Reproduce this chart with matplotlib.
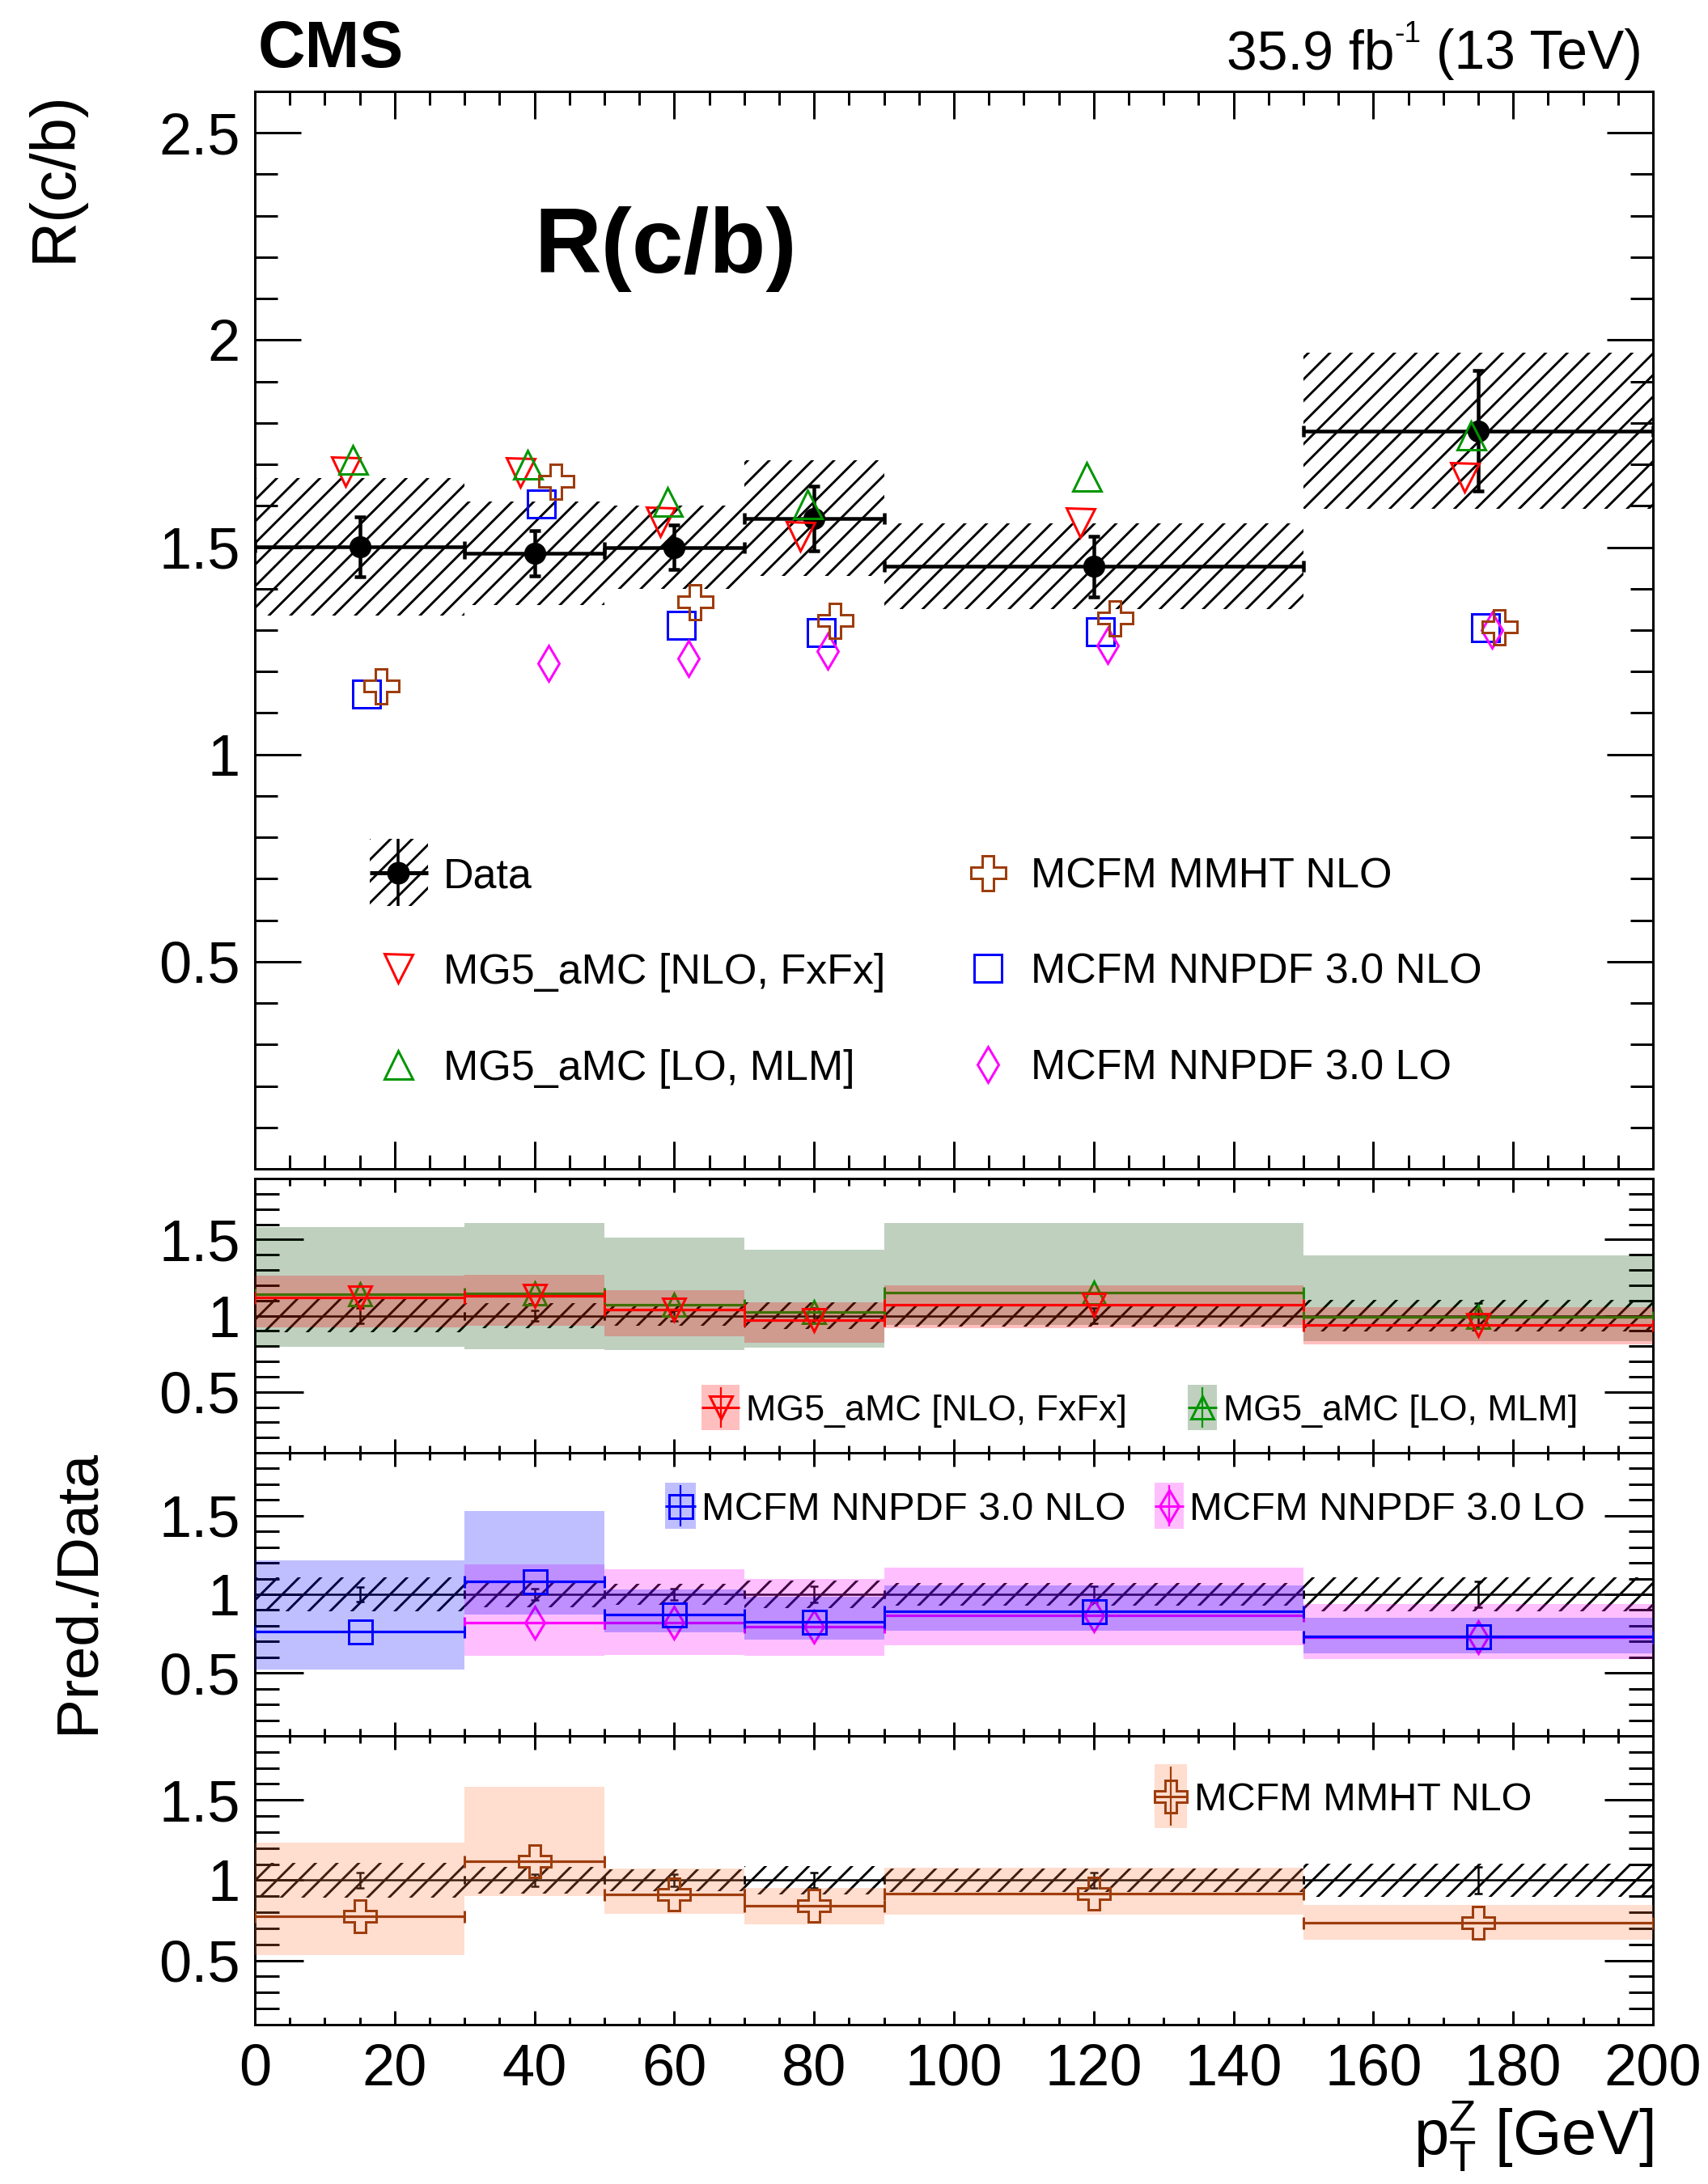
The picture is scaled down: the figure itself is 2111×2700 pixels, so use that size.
import numpy as np
import matplotlib
matplotlib.use("Agg")
import matplotlib.pyplot as plt
from matplotlib.lines import Line2D
from matplotlib.patches import Rectangle
from matplotlib.ticker import FixedLocator, FixedFormatter, MultipleLocator

# ---------------------------------------------------------------- data
bin_lo = np.array([0, 30, 50, 70, 90, 150])
bin_hi = np.array([30, 50, 70, 90, 150, 200])
bin_center = np.array([15, 40, 60, 80, 120, 175])

data_val = np.array([1.501, 1.486, 1.500, 1.570, 1.454, 1.781])
data_stat = np.array([0.073, 0.055, 0.054, 0.078, 0.073, 0.145])
data_syst = np.array([0.165, 0.125, 0.100, 0.140, 0.103, 0.188])

mg5_nlo = np.array([1.683, 1.680, 1.562, 1.527, 1.560, 1.668])
mg5_lo = np.array([1.712, 1.700, 1.611, 1.604, 1.671, 1.770])
mcfm_nnpdf_nlo = np.array([1.145, 1.605, 1.311, 1.295, 1.297, 1.305])
mcfm_nnpdf_lo = np.array([np.nan, 1.220, 1.232, 1.250, 1.262, 1.300])
mcfm_mmht_nlo = np.array([1.165, 1.660, 1.368, 1.324, 1.330, 1.308])

# theory uncertainty bands, in units of Pred./Data
mg5_nlo_band_lo = np.array([0.924, 0.933, 0.867, 0.821, 0.918, 0.812])
mg5_nlo_band_hi = np.array([1.265, 1.269, 1.166, 1.087, 1.198, 1.057])
mg5_lo_band_lo = np.array([0.796, 0.782, 0.773, 0.788, 0.940, 0.835])
mg5_lo_band_hi = np.array([1.584, 1.610, 1.511, 1.432, 1.610, 1.393])
nnpdf_nlo_band_lo = np.array([0.523, 0.871, 0.758, 0.712, 0.767, 0.626])
nnpdf_nlo_band_hi = np.array([1.214, 1.530, 1.029, 0.986, 1.055, 0.852])
nnpdf_lo_band_lo = np.array([np.nan, 0.607, 0.614, 0.607, 0.674, 0.587])
nnpdf_lo_band_hi = np.array([np.nan, 1.189, 1.161, 1.098, 1.170, 0.940])
mmht_nlo_band_lo = np.array([0.534, 0.904, 0.793, 0.726, 0.785, 0.630])
mmht_nlo_band_hi = np.array([1.236, 1.581, 1.072, 0.950, 1.076, 0.848])

xticks = [0, 20, 40, 60, 80, 100, 120, 140, 160, 180, 200]
xticklabels = ["0", "20", "40", "60", "80", "100", "120", "140", "160", "180", "200"]
main_yticks = [0.5, 1.0, 1.5, 2.0, 2.5]
main_yticklabels = ["0.5", "1", "1.5", "2", "2.5"]
ratio_yticks = [0.5, 1.0, 1.5]
ratio_yticklabels = ["0.5", "1", "1.5"]

label_data = "Data"
label_mg5_nlo = "MG5_aMC [NLO, FxFx]"
label_mg5_lo = "MG5_aMC [LO, MLM]"
label_mmht_nlo = "MCFM MMHT NLO"
label_nnpdf_nlo = "MCFM NNPDF 3.0 NLO"
label_nnpdf_lo = "MCFM NNPDF 3.0 LO"

# ---------------------------------------------------------------- style
plt.rcParams['font.family'] = ['Liberation Sans', 'DejaVu Sans']
plt.rcParams['mathtext.fontset'] = 'custom'
plt.rcParams['mathtext.rm'] = 'Liberation Sans'
plt.rcParams['mathtext.it'] = 'Liberation Sans:italic'
plt.rcParams['mathtext.bf'] = 'Liberation Sans:bold'
plt.rcParams['hatch.linewidth'] = 1.3

W, H, DPI = 2111, 2700, 160
HATCH = '//'

C_RED, C_GREEN, C_BLUE, C_MAG, C_BROWN = '#ff0000', '#009600', '#0000ff', '#ff00ff', '#9e3d0c'
B_RED, B_GREEN, B_BLUE, B_MAG, B_BROWN = '#ff0000', '#004600', '#0000ff', '#ff00ff', '#ff7b43'
BAND_ALPHA = 0.25

# horizontal marker shifts (GeV) so overlapping predictions stay visible
SHIFT = {'nlo': -2.0, 'lo': -1.0, 'nnpdf_nlo': 1.0, 'nnpdf_lo': 2.0, 'mmht': 3.0}


def pt(px):
    return px * 72.0 / DPI


def fx(x):
    return x / W


def fy(y):
    return 1.0 - y / H


fig = plt.figure(figsize=(W / DPI, H / DPI), dpi=DPI)


def add_axes_px(l, t, r, b):
    return fig.add_axes([fx(l), fy(b), (r - l) / W, (b - t) / H])


ax_main = add_axes_px(315, 113, 2043, 1445)
ax_r1 = add_axes_px(315, 1457, 2043, 1796)
ax_r2 = add_axes_px(315, 1796, 2043, 2146)
ax_r3 = add_axes_px(315, 2146, 2043, 2503)

TICK_FS = 32.5


def style_axes(ax, ylim, yticks, yticklabels, ymaj, ymin, xmaj, xmin, show_x):
    ax.set_xlim(0, 200)
    ax.set_ylim(*ylim)
    ax.xaxis.set_major_locator(FixedLocator(xticks))
    ax.xaxis.set_major_formatter(FixedFormatter(xticklabels))
    ax.xaxis.set_minor_locator(MultipleLocator(5))
    ax.yaxis.set_major_locator(FixedLocator(yticks))
    ax.yaxis.set_major_formatter(FixedFormatter(yticklabels))
    ax.yaxis.set_minor_locator(MultipleLocator(0.1))
    ax.tick_params(which='both', direction='in', top=True, bottom=True,
                   left=True, right=True, width=pt(3), color='black')
    ax.tick_params(axis='y', which='major', length=pt(ymaj), labelsize=TICK_FS, pad=pt(18))
    ax.tick_params(axis='y', which='minor', length=pt(ymin))
    ax.tick_params(axis='x', which='major', length=pt(xmaj), labelsize=TICK_FS, pad=pt(22))
    ax.tick_params(axis='x', which='minor', length=pt(xmin))
    ax.tick_params(axis='x', labelbottom=show_x)
    for s in ax.spines.values():
        s.set_linewidth(pt(3))


style_axes(ax_main, (0, 2.6), main_yticks, main_yticklabels, 57, 28, 34, 17, False)
for a in (ax_r1, ax_r2):
    style_axes(a, (0.1, 1.9), ratio_yticks, ratio_yticklabels, 60, 30, 17, 9, False)
style_axes(ax_r3, (0.1, 1.9), ratio_yticks, ratio_yticklabels, 60, 30, 17, 9, True)

widths = bin_hi - bin_lo
xerr = [bin_center - bin_lo, bin_hi - bin_center]

# ---------------------------------------------------------------- main panel
ax_main.bar(bin_lo, 2 * data_syst, width=widths, bottom=data_val - data_syst,
            align='edge', fill=False, hatch=HATCH, edgecolor='black', linewidth=0, zorder=1)
ax_main.errorbar(bin_center, data_val, xerr=xerr, yerr=data_stat, fmt='o', color='black',
                 ms=pt(25), elinewidth=pt(4.5), capsize=pt(7), capthick=pt(4.5), zorder=3)

main_models = [
    (mg5_nlo, SHIFT['nlo'], 'v', C_RED, pt(35)),
    (mg5_lo, SHIFT['lo'], '^', C_GREEN, pt(35)),
    (mcfm_nnpdf_nlo, SHIFT['nnpdf_nlo'], 's', C_BLUE, pt(34)),
    (mcfm_nnpdf_lo, SHIFT['nnpdf_lo'], 'd', C_MAG, pt(30.5)),
    (mcfm_mmht_nlo, SHIFT['mmht'], 'P', C_BROWN, pt(43)),
]
for vals, sh, mk, col, ms in main_models:
    ax_main.plot(bin_center + sh, vals, ls='none', marker=mk, ms=ms, mfc='none',
                 mec=col, mew=pt(3), zorder=4)

fig.text(fx(660), fy(337), "R(c/b)", fontsize=51.5, fontweight='bold', ha='left', va='baseline')
fig.text(fx(319), fy(83), "CMS", fontsize=36.5, fontweight='bold', ha='left', va='baseline')
fig.text(fx(67), fy(112), "R(c/b)", fontsize=35, rotation=90, ha='center', va='top')
fig.text(fx(98), fy(1967), "Pred./Data", fontsize=33, rotation=90, ha='center', va='center')
fig.text(fx(2043), fy(2664), r"$\mathregular{p}_{\mathregular{T}}^{\mathregular{Z}}$ [GeV]",
         fontsize=35, ha='right', va='baseline')

# luminosity label built right to left so the superscript keeps a plain hyphen
renderer = fig.canvas.get_renderer()
LUMI_FS = 30.5
t_energy = fig.text(fx(2030), fy(85), " (13 TeV)", fontsize=LUMI_FS, ha='right', va='baseline')
x_edge = t_energy.get_window_extent(renderer).x0 / W
t_sup = fig.text(x_edge, fy(52), "-1", fontsize=LUMI_FS * 0.55, ha='right', va='baseline')
x_edge = t_sup.get_window_extent(renderer).x0 / W
fig.text(x_edge, fy(85), "35.9 fb", fontsize=LUMI_FS, ha='right', va='baseline')

# legend of the main panel
LEG_FS = 23.4


def legend_text(x, yc, text, fs):
    em = fs * DPI / 72.0
    fig.text(fx(x), fy(yc + 0.358 * em), text, fontsize=fs, ha='left', va='baseline')


def legend_marker(x, y, mk, col, ms, filled=False):
    fig.add_artist(Line2D([fx(x)], [fy(y)], transform=fig.transFigure, ls='none', marker=mk,
                          ms=ms, mfc=col if filled else 'none', mec=col, mew=pt(3)))


def fig_line(x0, y0, x1, y1, col, lw):
    fig.add_artist(Line2D([fx(x0), fx(x1)], [fy(y0), fy(y1)], transform=fig.transFigure,
                          color=col, lw=lw, solid_capstyle='butt'))


rows = [1079, 1197, 1316]
fig.add_artist(Rectangle((fx(457), fy(1120)), (529 - 457) / W, (1120 - 1037) / H,
                         transform=fig.transFigure, fill=False, hatch=HATCH,
                         edgecolor='black', linewidth=0))
fig_line(457, rows[0], 529, rows[0], 'black', pt(5))
fig_line(492, 1037, 492, 1120, 'black', pt(3.5))
legend_marker(492, rows[0], 'o', 'black', pt(25), filled=True)
legend_text(548, rows[0], label_data, LEG_FS)
legend_marker(492, rows[1], 'v', C_RED, pt(35))
legend_text(548, rows[1], label_mg5_nlo, LEG_FS)
legend_marker(492, rows[2], '^', C_GREEN, pt(35))
legend_text(548, rows[2], label_mg5_lo, LEG_FS)
legend_marker(1221, rows[0], 'P', C_BROWN, pt(43))
legend_text(1274, rows[0], label_mmht_nlo, LEG_FS)
legend_marker(1221, rows[1], 's', C_BLUE, pt(34))
legend_text(1274, rows[1], label_nnpdf_nlo, LEG_FS)
legend_marker(1221, rows[2], 'd', C_MAG, pt(30.5))
legend_text(1274, rows[2], label_nnpdf_lo, LEG_FS)

# ---------------------------------------------------------------- ratio panels
rel_syst = data_syst / data_val
rel_stat = data_stat / data_val


def draw_reference(ax):
    ax.bar(bin_lo, 2 * rel_syst, width=widths, bottom=1 - rel_syst, align='edge',
           fill=False, hatch=HATCH, edgecolor='black', linewidth=0, zorder=1)
    ax.errorbar(bin_center, np.ones_like(data_val), xerr=xerr, yerr=rel_stat, fmt='none',
                ecolor='black', elinewidth=pt(2.5), capsize=pt(5), capthick=pt(2.5), zorder=2)


def draw_model(ax, vals, blo, bhi, col, bcol, mk, ms, z):
    ok = np.isfinite(vals)
    ratio = vals / data_val
    ax.bar(bin_lo[ok], (bhi - blo)[ok], width=widths[ok], bottom=blo[ok], align='edge',
           color=bcol, alpha=BAND_ALPHA, linewidth=0, zorder=z)
    ax.errorbar(bin_center[ok], ratio[ok],
                xerr=[(bin_center - bin_lo)[ok], (bin_hi - bin_center)[ok]],
                fmt=mk, color=col, mfc='none', mec=col, ms=ms, mew=pt(3),
                elinewidth=pt(3.2), capsize=pt(7.5), capthick=pt(3), zorder=z + 0.5)


def ratio_legend(x0, x1, y0, y1, col, bcol, mk, ms, text, tx, fs):
    fig.add_artist(Rectangle((fx(x0), fy(y1)), (x1 - x0) / W, (y1 - y0) / H,
                             transform=fig.transFigure, facecolor=bcol, alpha=BAND_ALPHA,
                             linewidth=0))
    xc, yc = (x0 + x1) / 2, (y0 + y1) / 2
    fig_line(x0, yc, x1, yc, col, pt(3))
    fig_line(xc, y0 + 3, xc, y1 - 3, col, pt(2.2))
    legend_marker(xc, yc, mk, col, ms)
    legend_text(tx, yc, text, fs)


for a in (ax_r1, ax_r2, ax_r3):
    draw_reference(a)

draw_model(ax_r1, mg5_lo, mg5_lo_band_lo, mg5_lo_band_hi, C_GREEN, B_GREEN, '^', pt(28), 3)
draw_model(ax_r1, mg5_nlo, mg5_nlo_band_lo, mg5_nlo_band_hi, C_RED, B_RED, 'v', pt(28), 4)
draw_model(ax_r2, mcfm_nnpdf_lo, nnpdf_lo_band_lo, nnpdf_lo_band_hi, C_MAG, B_MAG, 'd', pt(28), 3)
draw_model(ax_r2, mcfm_nnpdf_nlo, nnpdf_nlo_band_lo, nnpdf_nlo_band_hi, C_BLUE, B_BLUE, 's', pt(29), 4)
draw_model(ax_r3, mcfm_mmht_nlo, mmht_nlo_band_lo, mmht_nlo_band_hi, C_BROWN, B_BROWN, 'P', pt(40), 3)

ratio_legend(867, 914, 1712, 1768, C_RED, B_RED, 'v', pt(28), label_mg5_nlo, 922, 20.2)
ratio_legend(1468, 1504, 1712, 1768, C_GREEN, B_GREEN, '^', pt(28), label_mg5_lo, 1512, 20.2)
ratio_legend(822, 860, 1833, 1890, C_BLUE, B_BLUE, 's', pt(29), label_nnpdf_nlo, 867, 22)
ratio_legend(1427, 1463, 1833, 1890, C_MAG, B_MAG, 'd', pt(28), label_nnpdf_lo, 1470, 22)
ratio_legend(1427, 1467, 2181, 2260, C_BROWN, B_BROWN, 'P', pt(40), label_mmht_nlo, 1476, 21.8)

fig.savefig("out.png", dpi=DPI)
